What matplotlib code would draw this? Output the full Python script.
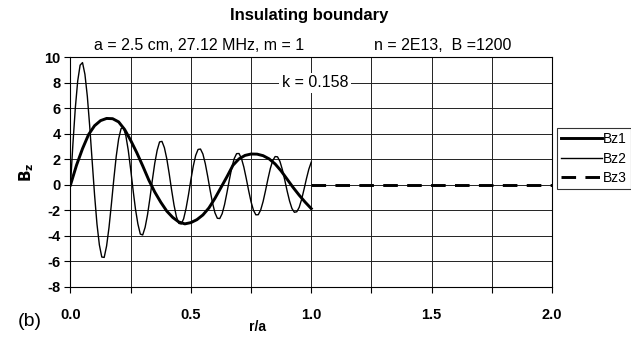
import numpy as np
import matplotlib
matplotlib.use("Agg")
import matplotlib.pyplot as plt

plt.rcParams['font.family'] = ['Liberation Sans', 'DejaVu Sans']
plt.rcParams['axes.unicode_minus'] = False

# Bz1 read every 0.025 in r/a
r1 = np.round(np.arange(41) * 0.025, 3)
bz1 = [0.00, 1.55, 2.85, 3.95, 4.65, 5.05, 5.22, 5.20, 4.95, 4.35,
       3.50, 2.55, 1.50, 0.40, -0.55, -1.35, -2.05, -2.55, -2.90, -3.05,
       -2.95, -2.72, -2.35, -1.80, -1.05, -0.20, 0.65, 1.55, 2.05, 2.32,
       2.43, 2.42, 2.30, 2.05, 1.65, 1.10, 0.45, -0.20, -0.80, -1.35,
       -1.85]

# Bz2 read every 0.01 in r/a
r2 = np.round(np.arange(101) * 0.01, 2)
bz2 = [0.00, 3.19, 6.02, 8.16, 9.40, 9.60, 8.68, 6.95, 4.57, 1.89,
       -0.77, -3.06, -4.70, -5.65, -5.68, -4.78, -3.33, -1.49, 0.46, 2.25,
       3.61, 4.42, 4.50, 3.86, 2.72, 1.22, -0.40, -1.90, -3.06, -3.85,
       -3.92, -3.32, -2.33, -1.04, 0.38, 1.70, 2.72, 3.38, 3.42, 2.93,
       2.06, 0.89, -0.39, -1.57, -2.49, -3.01, -3.06, -2.65, -1.84, -0.78,
       0.40, 1.48, 2.32, 2.79, 2.82, 2.43, 1.67, 0.67, -0.41, -1.41,
       -2.18, -2.61, -2.63, -2.25, -1.53, -0.59, 0.42, 1.36, 2.07, 2.46,
       2.47, 2.09, 1.41, 0.52, -0.44, -1.32, -1.98, -2.34, -2.33, -1.96,
       -1.30, -0.45, 0.46, 1.29, 1.91, 2.23, 2.21, 1.85, 1.21, 0.39,
       -0.48, -1.26, -1.85, -2.14, -2.10, -1.75, -1.13, -0.34, 0.49, 1.24,
       1.79]

# Bz3 outside the plasma
r3 = [1.0, 2.0]
bz3 = [0.0, 0.0]

x_ticks = [0.0, 0.5, 1.0, 1.5, 2.0]
y_ticks = list(range(-8, 11, 2))

fig = plt.figure(figsize=(6.31, 3.39), dpi=100)
ax = fig.add_axes([0.1117, 0.1534, 0.7631, 0.677])

ax.plot(r1, bz1, color='black', lw=2.1, label='Bz1', zorder=3)
ax.plot(r2, bz2, color='black', lw=1.0, label='Bz2', zorder=3)
ax.plot(r3, bz3, color='black', lw=2.1, linestyle=(0, (5.0, 3.2)), label='Bz3', zorder=3)

ax.set_xlim(0, 2)
ax.set_ylim(-8, 10)
ax.set_xticks(x_ticks)
ax.set_xticklabels([f"{v:.1f}" for v in x_ticks], fontweight='bold')
ax.set_xticks(np.arange(0.25, 2.0, 0.5), minor=True)
ax.set_yticks(y_ticks)
ax.set_yticklabels([str(v) for v in y_ticks], fontweight='bold')
ax.grid(True, which='both', color='#222222', lw=0.7)
ax.tick_params(axis='x', which='both', direction='out', length=4, width=0.8, pad=11, labelsize=10.5)
ax.tick_params(axis='y', direction='out', length=4, width=0.8, pad=3, labelsize=10.5)
for s in ax.spines.values():
    s.set_linewidth(0.8)

fig.text(258 / 631, 1 - 327 / 339, 'r/a', ha='center', va='center',
         fontsize=10, fontweight='bold')
fig.text(27 / 631, 1 - 172 / 339, r'$\mathbf{B_z}$', ha='center', va='center',
         fontsize=11, rotation=90)

ax.text(1.015, 8, 'k = 0.158', ha='center', va='center', fontsize=11.5,
        bbox=dict(facecolor='white', edgecolor='none', pad=2), zorder=4)

fig.text(0.49, 0.955, 'Insulating boundary', ha='center', va='center',
         fontsize=12, fontweight='bold')
fig.text(0.316, 0.867, 'a = 2.5 cm, 27.12 MHz, m = 1', ha='center', va='center', fontsize=11.5)
fig.text(0.593, 0.867, 'n = 2E13,  B =1200', ha='left', va='center', fontsize=11.5)
fig.text(30 / 631, 1 - 322 / 339, '(b)', ha='center', va='center', fontsize=14)

leg = fig.legend(loc='upper left', bbox_to_anchor=(0.883, 0.623), fontsize=10,
                 handlelength=2.9, handletextpad=0.1, labelspacing=0.4,
                 borderpad=0.3, frameon=True, fancybox=False, borderaxespad=0)
leg.get_frame().set_edgecolor('black')
leg.get_frame().set_linewidth(0.8)

fig.savefig('out.png', dpi=100)
